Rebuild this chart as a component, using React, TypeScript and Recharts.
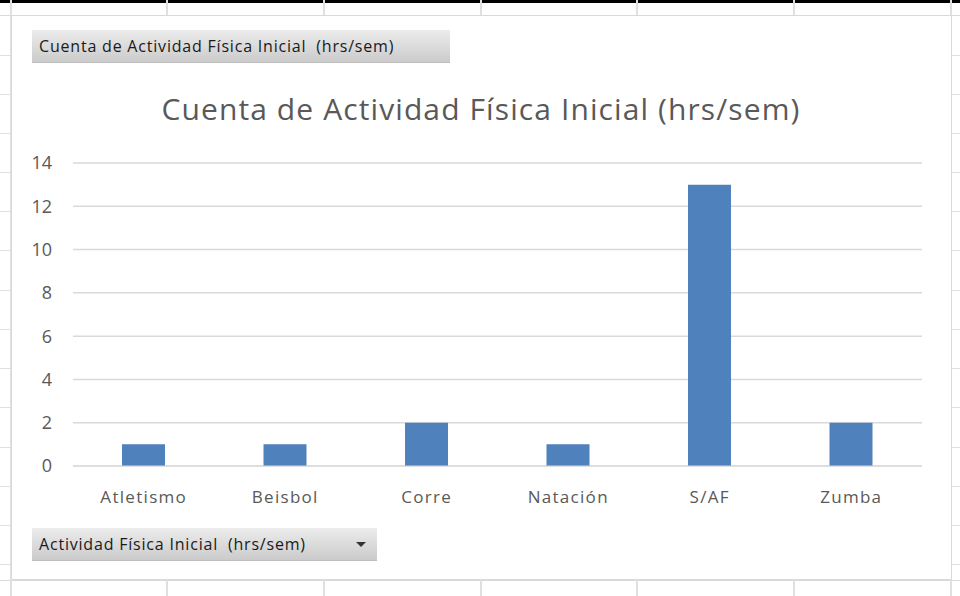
import { BarChart, Bar, XAxis, YAxis, CartesianGrid } from "recharts";

const categories = ["Atletismo", "Beisbol", "Corre", "Natación", "S/AF", "Zumba"];
const counts = [1, 1, 2, 1, 13, 2];
const yTicks = [0, 2, 4, 6, 8, 10, 12, 14];

const chartTitle = "Cuenta de Actividad Física Inicial (hrs/sem)";
const valueField = "Cuenta de Actividad Física Inicial  (hrs/sem)";
const axisField = "Actividad Física Inicial  (hrs/sem)";

const data = categories.map((name, i) => ({ name, value: counts[i] }));

// spreadsheet background lines
const colLines = [10, 166, 323, 480, 636, 793, 950];
const rowLines = [55, 94, 133, 172, 211, 250, 290, 329, 368, 407, 447, 486, 525, 564];

const gridColor = "#d9d9d9";
const textColor = "#595959";
const font = "'Open Sans', sans-serif";

function FieldButton({ label, left, top, width, arrow }: { label: string; left: number; top: number; width: number; arrow?: boolean }) {
  return (
    <div
      style={{
        position: "absolute",
        left,
        top,
        width,
        height: 33,
        background: "linear-gradient(#ececec, #cbcbcb)",
        borderBottom: "1px solid #bdbdbd",
        boxSizing: "border-box",
        fontFamily: font,
        fontSize: 16,
        letterSpacing: 0.8,
        color: "#1a1a1a",
        lineHeight: "33px",
        paddingLeft: 7,
        whiteSpace: "pre",
      }}
    >
      {label}
      {arrow && (
        <div
          style={{
            position: "absolute",
            right: 11,
            top: 14,
            width: 0,
            height: 0,
            borderLeft: "5px solid transparent",
            borderRight: "5px solid transparent",
            borderTop: "5px solid #333",
          }}
        />
      )}
    </div>
  );
}

export default function App() {
  return (
    <div style={{ position: "absolute", left: 0, top: 0, width: 960, height: 596, background: "#fff", overflow: "hidden" }}>
      {/* sheet grid */}
      <div style={{ position: "absolute", left: 0, top: 0, width: 960, height: 3, background: "#000" }} />
      <div style={{ position: "absolute", left: 0, top: 15, width: 960, height: 1, background: gridColor }} />
      <div style={{ position: "absolute", left: 0, top: 580, width: 960, height: 1, background: gridColor }} />
      {colLines.map((x) => (
        <div key={x} style={{ position: "absolute", left: x, top: 0, width: 2, height: 596, background: "#e0e0e0" }} />
      ))}
      {rowLines.map((y) => (
        <div key={y} style={{ position: "absolute", left: 0, top: y, width: 960, height: 1, background: "#e0e0e0" }} />
      ))}

      {/* chart object */}
      <div
        style={{
          position: "absolute",
          left: 11,
          top: 15,
          width: 941,
          height: 565,
          background: "#fff",
          border: `1px solid ${gridColor}`,
          boxSizing: "border-box",
        }}
      />

      <FieldButton label={valueField} left={32} top={30} width={418} />
      <FieldButton label={axisField} left={32} top={528} width={345} arrow />

      <div
        style={{
          position: "absolute",
          left: 0,
          width: 962,
          top: 88,
          textAlign: "center",
          fontFamily: font,
          fontSize: 30,
          color: textColor,
          letterSpacing: 1.1,
        }}
      >
        {chartTitle}
      </div>

      <div style={{ position: "absolute", left: 0, top: 0 }}>
        <BarChart
          width={960}
          height={596}
          data={data}
          margin={{ top: 163, right: 38, bottom: 100, left: 13 }}
          barSize={43}
        >
          <CartesianGrid vertical={false} stroke={gridColor} strokeWidth={1.5} />
          <XAxis
            dataKey="name"
            axisLine={{ stroke: gridColor }}
            tickLine={false}
            tickMargin={19}
            height={30}
            tick={{ fill: textColor, fontSize: 17, fontFamily: font, letterSpacing: 1.3 }}
          />
          <YAxis
            domain={[0, 14]}
            ticks={yTicks}
            axisLine={false}
            tickLine={false}
            width={60}
            tickMargin={15}
            tick={{ fill: textColor, fontSize: 18, fontFamily: font }}
          />
          <Bar dataKey="value" fill="#4f81bd" isAnimationActive={false} />
        </BarChart>
      </div>
    </div>
  );
}
